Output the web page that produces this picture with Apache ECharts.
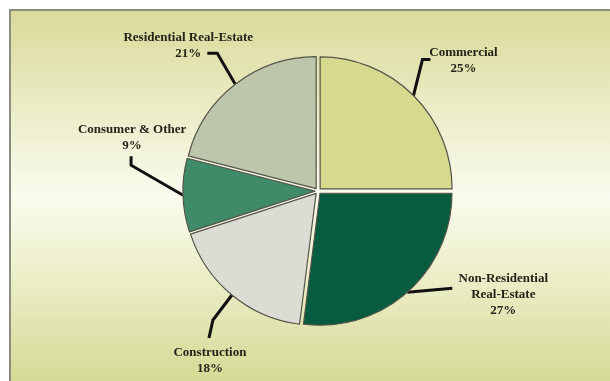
<!DOCTYPE html>
<html>
<head>
<meta charset="utf-8">
<title>Loan portfolio mix</title>
<script src="https://cdn.jsdelivr.net/npm/echarts@6/dist/echarts.min.js"></script>
<style>
  html, body { margin: 0; padding: 0; background: #ffffff; }
  #frame {
    position: absolute; left: 9px; top: 9px; width: 601px; height: 372px;
    box-sizing: border-box;
    border-left: 2px solid #8c8c80; border-top: 2px solid #8c8c80;
    background: linear-gradient(to bottom, #d9da99 0%, #e8e9bf 22%, #fafbee 50%, #eceec8 72%, #d5da95 100%);
  }
  #chart { position: absolute; left: 0; top: 0; width: 610px; height: 381px; }
</style>
</head>
<body>
<div id="frame"></div>
<div id="chart"></div>
<script>
// Portfolio segments, clockwise from 12 o'clock
const categories = ['Commercial', 'Non-Residential\nReal-Estate', 'Construction', 'Consumer & Other', 'Residential Real-Estate'];
const shares = [25, 27, 18, 9, 21];
const sliceColors = ['#d6da8e', '#075c40', '#dcdcd5', '#3f8b69', '#bdc5aa'];

// Where each label sits relative to its leader anchor on the rim,
// plus the bend points of the leader line (same reference point).
const labelPlacement = [
  { dx: 50,  dy: -35, bends: [[9, -36], [17, -36]] },
  { dx: 96,  dy: 2,   bends: [[45, -4]] },
  { dx: -22, dy: 66,  bends: [[-19, 25], [-23, 43]] },
  { dx: -51, dy: -58, bends: [[-52, -30], [-52, -39]] },
  { dx: -47, dy: -39, bends: [[-18, -31], [-28, -31]] }
];

const CX = 318, CY = 191, R = 132, EXPLODE = 3;
const total = shares.reduce((s, v) => s + v, 0);

const chart = echarts.init(document.getElementById('chart'), null, { renderer: 'canvas' });

// One pie layer per segment: the segment itself is drawn, the rest stay
// invisible, so every wedge can be pushed out along its own bisector.
let cum = 0;
const layers = shares.map((share, k) => {
  const mid = (cum + share / 2) / total * 2 * Math.PI; // clockwise from 12 o'clock
  cum += share;
  const data = categories.map((name, i) => (i === k ? {
    name: name,
    value: shares[i],
    itemStyle: { color: sliceColors[i], borderColor: '#55554a', borderWidth: 1.2 }
  } : {
    name: name,
    value: shares[i],
    itemStyle: { color: 'rgba(0,0,0,0)', borderWidth: 0 },
    label: { show: false },
    labelLine: { show: false }
  }));
  return {
    type: 'pie',
    center: [CX + EXPLODE * Math.sin(mid), CY - EXPLODE * Math.cos(mid)],
    radius: R,
    startAngle: 90,
    clockwise: true,
    silent: true,
    avoidLabelOverlap: false,
    emphasis: { disabled: true },
    label: {
      show: true,
      position: 'outside',
      formatter: '{b}\n{c}%',
      fontFamily: '"Liberation Serif", "Times New Roman", serif',
      fontWeight: 'bold',
      fontSize: 13,
      lineHeight: 16,
      color: '#24241a',
      align: 'center'
    },
    labelLine: {
      show: true,
      length: 20,
      length2: 10,
      lineStyle: { color: '#111111', width: 3 }
    },
    labelLayout: function (p) {
      const pl = labelPlacement[p.dataIndex];
      const a = p.labelLinePoints ? p.labelLinePoints[0] : [0, 0];
      const pts = [[a[0], a[1]]].concat(pl.bends.map(b => [a[0] + b[0], a[1] + b[1]]));
      return {
        x: a[0] + pl.dx,
        y: a[1] + pl.dy,
        align: 'center',
        verticalAlign: 'middle',
        labelLinePoints: pts
      };
    },
    data: data
  };
});

chart.setOption({
  animation: false,
  backgroundColor: 'transparent',
  series: layers
});
</script>
</body>
</html>
